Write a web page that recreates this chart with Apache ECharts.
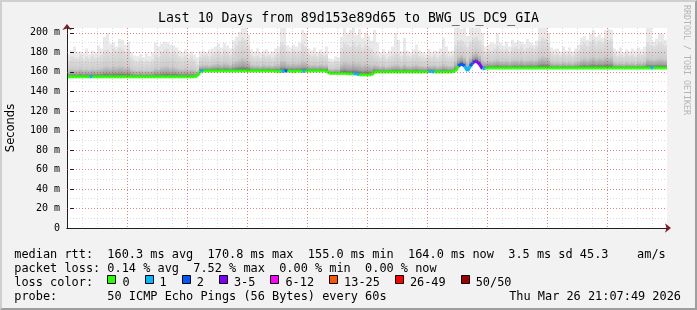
<!DOCTYPE html>
<html><head><meta charset="utf-8">
<script src="https://cdn.jsdelivr.net/npm/echarts@6/dist/echarts.min.js"></script>
<style>
html,body{margin:0;padding:0;background:#f2f2f2;}
#wrap{position:relative;width:697px;height:310px;}
#chart{width:697px;height:310px;}
#frame{position:absolute;left:0;top:0;width:697px;height:310px;box-sizing:border-box;border-top:2px solid #cfcfcf;border-left:2px solid #cfcfcf;border-right:2px solid #9e9e9e;border-bottom:2px solid #9e9e9e;pointer-events:none;}
</style></head><body>
<div id="wrap"><div id="chart"></div><div id="frame"></div></div>
<script>
// ---- data ----
const titleText = 'Last 10 Days from 89d153e89d65 to BWG_US_DC9_GIA';
const yAxisName = 'Seconds';
const creditText = 'RRDTOOL / TOBI OETIKER';
const dayLabels = ['17 Mar','18 Mar','19 Mar','20 Mar','21 Mar','22 Mar','23 Mar','24 Mar','25 Mar','26 Mar'];
const dayLabelHours = [12,36,60,84,108,132,156,180,204,228]; // hours after 17 Mar 00:00 (labels at midday)
const startHour = -2.8;   // window start, hours relative to 17 Mar 00:00
const endHour = 237.2;    // window end
const stepHours = 1.2;    // one sample every 72 minutes
const yMax = 205;

// median rtt per sample (ms)
const median = [
155,155,155,155,155,155,155,155,155,155,155,155,155,155,155,155,155,155,155,155,
155,155,155,155,155,155,155,155,155,155,155,155,155,155,155,155,155,155,155,155,
155,155,155,156,161,161,161,161,161,161,161,161,161,161,161,161,161,161,161,161,
161,161,161,161,161,161,161,161,161,161,160.5,160.5,161,161,161,160.5,161,161,160.5,161,
161,161,161,161,161,161,161,158.5,158.5,158.5,158.5,158.5,158.5,158,158,158,158,157,157,157,
157,157,160,160,160,160,160,160,160,160,160,160,160,160,160,160,160,160,160,160,
160.5,160.5,160,160,160,160,160,160,160,161,166,168,166,161,166,170,170.8,168,163,164,
164,164,164,164,164,164,164,164,164,164,164,164,164,164,164,164,164,164,164,164,
164,164,164,164,164,164,164,164,164,164,164,164,164,164,164,164,164,164,164,164,
164,164,164,164,164,164,164,164,164,164,164,164,164,164,164,164,164,164,164,164
];
// top of the dense smoke per sample (ms)
const upper = [
172,176,175,174,177,173,176,174,177,175,176,178,182,183,180,184,182,185,184,181,
183,175,172,171,173,170,172,171,173,178,176,181,183,184,180,182,179,176,175,177,
174,176,173,168,176,177,178,176,179,180,182,179,183,181,178,184,188,192,196,193,
187,178,176,177,175,178,176,177,175,178,180,190,188,182,180,183,181,182,189,186,
179,177,178,176,179,177,178,171,170,172,171,185,190,188,186,191,187,189,185,188,
186,184,180,178,175,177,174,176,178,180,179,176,181,177,176,178,180,177,176,175,
177,176,178,175,177,181,178,176,177,188,192,193,190,186,191,195,196,193,188,181,
183,182,184,187,183,182,184,181,185,186,184,187,183,185,186,184,186,192,196,194,
190,180,178,179,177,180,178,179,177,180,182,188,190,187,191,194,189,192,190,195,
193,194,179,177,178,176,179,177,178,176,179,178,180,190,188,186,188,190,189,187
];
// slowest ping per sample (ms)
const peak = [
178,182,186,180,181,179,184,178,182,180,187,184,196,200,189,190,186,194,193,188,
191,180,177,176,178,175,179,176,180,190,186,189,191,190,188,187,185,182,180,183,
179,181,178,175,181,182,180,183,184,186,189,185,190,187,184,192,196,201,205,205,
198,183,181,184,180,182,183,179,181,184,186,205,205,187,185,188,186,190,203,200,
184,182,185,180,183,181,186,174,173,176,175,196,205,200,203,205,198,204,195,200,
197,192,203,190,180,183,179,182,186,200,193,181,195,182,180,183,188,182,180,179,
183,180,182,181,184,195,186,181,182,205,205,204,205,197,205,205,205,205,200,186,
188,190,189,200,190,187,191,186,193,190,192,191,189,194,190,188,192,205,205,205,
200,185,183,184,181,186,182,185,181,184,188,195,197,193,199,203,196,198,195,203,
204,203,184,182,185,180,183,181,184,182,185,183,186,205,205,191,194,200,199,193
];
// lost pings (of 50) per sample
const loss = [
0,0,0,0,0,0,0,1,0,0,0,0,0,0,0,0,0,0,0,0,
0,0,0,0,0,0,0,0,0,0,0,0,0,0,0,0,0,0,0,0,
0,0,0,0,1,0,0,0,0,0,0,0,0,0,0,0,0,0,0,0,
0,0,0,0,0,0,0,0,0,0,0,1,2,0,0,0,0,0,1,0,
0,0,0,0,0,0,0,0,0,0,0,0,0,0,0,1,1,0,0,0,
0,0,0,0,0,0,0,0,0,0,0,0,0,0,0,0,0,0,0,0,
1,1,0,0,0,0,0,0,0,0,2,2,1,1,2,3,4,3,1,0,
0,0,0,0,0,0,0,0,0,0,0,0,0,0,0,0,0,0,0,0,
0,0,0,0,0,0,0,0,0,0,0,0,0,0,0,0,0,0,0,0,
0,0,0,0,0,0,0,0,0,0,0,0,0,0,1,0,0,0,0,0
];
const lossFloor  = [0,1,2,3,6,13,26,50];
const lossLabels = ['0','1','2','3-5','6-12','13-25','26-49','50/50'];
const lossColors = ['#26ff00','#00b8ff','#0059ff','#7e00ff','#ff00ff','#ff5500','#ff0000','#a10000'];
const statLines = [
  'median rtt:  160.3 ms avg  170.8 ms max  155.0 ms min  164.0 ms now  3.5 ms sd 45.3    am/s',
  'packet loss: 0.14 % avg  7.52 % max  0.00 % min  0.00 % now'
];
const lossTitle = 'loss color:';
const probeLine = 'probe:       50 ICMP Echo Pings (56 Bytes) every 60s';
const dateText = 'Thu Mar 26 21:07:49 2026';

// ---- chart ----
function lossColor(n){ let k = 0; for (let j = 0; j < lossFloor.length; j++) if (n >= lossFloor[j]) k = j; return lossColors[k]; }
const data = median.map((m, i) => [startHour + stepHours * (i + 0.5), m, upper[i], peak[i], loss[i]]);

const MONO = 'DejaVu Sans Mono';
const CW = 7.164, X0 = 14.3, FS = 11.9;
const smokeGrad = new echarts.graphic.LinearGradient(0, 0, 0, 1, [
  {offset: 0, color: '#e0e0e0'}, {offset: 0.6, color: '#cdcdcd'},
  {offset: 0.85, color: '#a2a2a2'}, {offset: 1, color: '#5a5a5a'}]);

function renderSmoke(params, api){
  const t = api.value(0), m = api.value(1), u = api.value(2), p = api.value(3);
  const base = api.coord([t - stepHours / 2, m]);
  const w = api.size([stepHours, 0])[0];
  const yU = api.coord([t, u])[1], yP = api.coord([t, p])[1];
  return {type: 'group', children: [
    {type: 'rect', shape: {x: base[0], y: yP, width: w, height: base[1] - yP}, style: {fill: '#e9e9e9'}},
    {type: 'rect', shape: {x: base[0], y: yU, width: w, height: base[1] - yU}, style: {fill: smokeGrad}}
  ]};
}
function renderMedian(params, api){
  const i = params.dataIndex;
  const t = api.value(0), m = api.value(1);
  const pts = [api.coord([t, m])];
  if (i === 0) pts.unshift(api.coord([t - stepHours / 2, m]));
  if (i < median.length - 1) pts.push(api.coord([t + stepHours, median[i + 1]]));
  else pts.push(api.coord([t + stepHours / 2, m]));
  return {type: 'polyline', shape: {points: pts}, style: {stroke: lossColor(api.value(4)), lineWidth: 3, fill: null}};
}

const graphics = [];
graphics.push({type: 'text', x: 348.5, y: 18.5, style: {text: titleText, font: '13.2px "' + MONO + '"', fill: '#000', align: 'center', verticalAlign: 'middle'}});
graphics.push({type: 'text', x: 686, y: 60, rotation: -Math.PI / 2, style: {text: creditText, font: '8.3px "' + MONO + '"', fill: '#b4b4b4', align: 'center', verticalAlign: 'middle'}});
const lineY = [254.8, 268.8, 282.8, 296.6];
statLines.forEach((s, k) => graphics.push({type: 'text', x: X0, y: lineY[k], style: {text: s, font: FS + 'px "' + MONO + '"', fill: '#000', align: 'left', verticalAlign: 'middle'}}));
graphics.push({type: 'text', x: X0, y: lineY[2], style: {text: lossTitle, font: FS + 'px "' + MONO + '"', fill: '#000', align: 'left', verticalAlign: 'middle'}});
let lx = X0 + 13 * CW;
lossLabels.forEach((lab, k) => {
  graphics.push({type: 'rect', shape: {x: Math.round(lx) + 0.5, y: 275.5, width: 8, height: 8}, style: {fill: lossColors[k], stroke: '#000', lineWidth: 1}});
  graphics.push({type: 'text', x: lx + 15, y: lineY[2], style: {text: lab, font: FS + 'px "' + MONO + '"', fill: '#000', align: 'left', verticalAlign: 'middle'}});
  lx += 15 + lab.length * CW + 15;
});
graphics.push({type: 'text', x: X0, y: lineY[3], style: {text: probeLine, font: FS + 'px "' + MONO + '"', fill: '#000', align: 'left', verticalAlign: 'middle'}});
graphics.push({type: 'text', x: 681, y: lineY[3], style: {text: dateText, font: FS + 'px "' + MONO + '"', fill: '#000', align: 'right', verticalAlign: 'middle'}});

const dash = [1, 2];
const minorColor = 'rgba(140,140,140,0.3)';
const majorColor = 'rgba(222,60,60,0.55)';
const axisColor = '#1f1f1f';
const arrowColor = '#801f1f';

const chart = echarts.init(document.getElementById('chart'), null, {renderer: 'canvas'});
chart.setOption({
  animation: false,
  backgroundColor: '#f2f2f2',
  grid: {left: 67, right: 30, top: 28, bottom: 82, show: true, backgroundColor: '#ffffff', borderWidth: 0, outerBoundsMode: 'none', containLabel: false},
  xAxis: [
    {type: 'value', min: startHour, max: endHour, interval: 6, position: 'bottom', z: 5,
     axisLine: {show: true, onZero: false, lineStyle: {color: axisColor, width: 1}},
     axisTick: {show: false},
     axisLabel: {margin: 5, color: '#000', fontFamily: MONO, fontSize: 10,
       formatter: v => { const r = Math.round(v); if (Math.abs(v - r) > 1e-6) return ''; const k = dayLabelHours.indexOf(r); return k >= 0 ? dayLabels[k] : ''; }},
     splitLine: {show: true, showMinLine: false, showMaxLine: false, lineStyle: {color: minorColor, width: 1, type: dash}}},
    {type: 'value', min: startHour, max: endHour, interval: 24, position: 'bottom', z: 8,
     axisLine: {show: false}, axisTick: {show: false}, axisLabel: {show: false},
     splitLine: {show: true, showMinLine: false, showMaxLine: false, lineStyle: {color: majorColor, width: 1, type: dash}}},
    {type: 'value', min: startHour, max: endHour, position: 'bottom', z: 4,
     axisLine: {show: true, onZero: false, symbol: ['none', 'arrow'], symbolSize: [7, 6], symbolOffset: [0, 4], lineStyle: {color: arrowColor, width: 1}},
     axisTick: {show: false}, axisLabel: {show: false}, splitLine: {show: false}}
  ],
  yAxis: [
    {type: 'value', min: 0, max: yMax, interval: 10, position: 'left', z: 5,
     name: yAxisName, nameLocation: 'middle', nameGap: 50, nameRotate: 90,
     nameTextStyle: {fontFamily: 'DejaVu Sans', fontSize: 11.5, color: '#000'},
     axisLine: {show: true, onZero: false, lineStyle: {color: axisColor, width: 1}},
     axisTick: {show: false},
     axisLabel: {margin: 7, color: '#000', fontFamily: MONO, fontSize: 10,
       formatter: v => (Math.round(v) % 20 !== 0 || Math.abs(v - Math.round(v)) > 1e-6) ? '' : (v === 0 ? '0' : Math.round(v) + ' m')},
     splitLine: {show: true, showMinLine: false, showMaxLine: false, lineStyle: {color: minorColor, width: 1, type: dash}}},
    {type: 'value', min: 0, max: yMax, interval: 20, position: 'left', z: 8,
     axisLine: {show: false}, axisLabel: {show: false},
     axisTick: {show: true, inside: false, length: 4, lineStyle: {color: axisColor}},
     splitLine: {show: true, showMinLine: false, showMaxLine: false, lineStyle: {color: majorColor, width: 1, type: dash}}},
    {type: 'value', min: 0, max: yMax, position: 'left', z: 4,
     axisLine: {show: true, onZero: false, symbol: ['none', 'arrow'], symbolSize: [7, 6], symbolOffset: [0, 4], lineStyle: {color: arrowColor, width: 1}},
     axisTick: {show: false}, axisLabel: {show: false}, splitLine: {show: false}}
  ],
  graphic: graphics,
  series: [
    {type: 'custom', name: 'smoke', xAxisIndex: 0, yAxisIndex: 0, z: 2, clip: true, renderItem: renderSmoke, data: data, silent: true},
    {type: 'custom', name: 'median', xAxisIndex: 0, yAxisIndex: 0, z: 3, clip: true, renderItem: renderMedian, data: data, silent: true}
  ]
});
</script>
</body></html>
